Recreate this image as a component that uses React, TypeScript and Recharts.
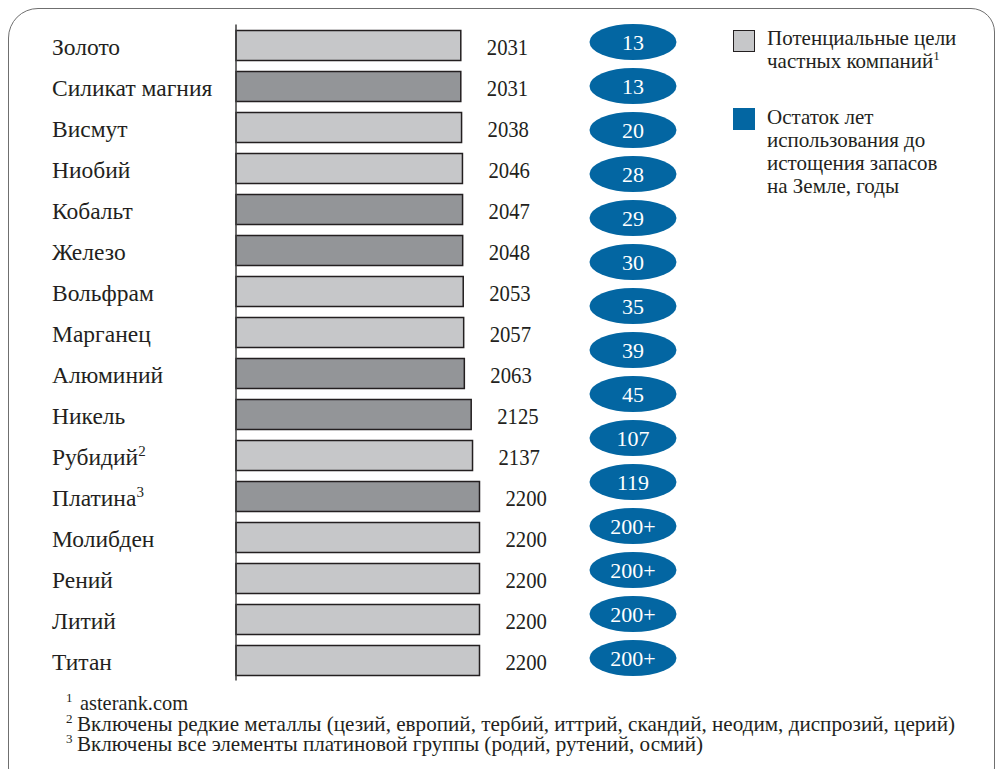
import React from "react";
import {
  BarChart,
  Bar,
  XAxis,
  YAxis,
  Cell,
  LabelList,
  Legend,
  ScatterChart,
  Scatter,
} from "recharts";

// metals, top to bottom
const metals = [
  "Золото",
  "Силикат магния",
  "Висмут",
  "Ниобий",
  "Кобальт",
  "Железо",
  "Вольфрам",
  "Марганец",
  "Алюминий",
  "Никель",
  "Рубидий",
  "Платина",
  "Молибден",
  "Рений",
  "Литий",
  "Титан",
];
const metalNotes = ["", "", "", "", "", "", "", "", "", "", "2", "3", "", "", "", ""];
const depletionYear = [
  2031, 2031, 2038, 2046, 2047, 2048, 2053, 2057, 2063, 2125, 2137, 2200, 2200, 2200, 2200, 2200,
];
const privateTarget = [
  true, false, true, true, false, false, true, true, false, false, true, false, true, true, true, true,
];

// blue ovals column (15 values, own spacing)
const yearsLeft = ["13", "13", "20", "28", "29", "30", "35", "39", "45", "107", "119", "200+", "200+", "200+", "200+"];

const legendTargets = ["Потенциальные цели", "частных компаний"];
const legendReserves = ["Остаток лет", "использования до", "истощения запасов", "на Земле, годы"];

const footnoteMarks = ["1", "2", "3"];
const footnoteTexts = [
  "asterank.com",
  "Включены редкие металлы (цезий, европий, тербий, иттрий, скандий, неодим, диспрозий, церий)",
  "Включены все элементы платиновой группы (родий, рутений, осмий)",
];

const SERIF = "Liberation Serif";
const INK = "#231f20";
const LIGHT = "#c6c7c9";
const DARK = "#939598";
const BLUE = "#0366a2";

const barData = metals.map((name, i) => ({
  name,
  note: metalNotes[i],
  year: depletionYear[i],
  target: privateTarget[i],
}));

const ovalData = yearsLeft.map((label, i) => ({ row: i, col: 0.5, label }));

function MetalTick(props: any) {
  const { y, payload } = props;
  const d = barData[payload.index];
  return (
    <text x={52} y={y + 10} fontFamily={SERIF} fontSize={23.5} fill={INK}>
      {d.name}
      {d.note && (
        <tspan dy={-9} fontSize={15}>
          {d.note}
        </tspan>
      )}
    </text>
  );
}

const renderYear = (p: any) => {
  const tx = p.x + p.width + 26;
  const ty = p.y + p.height / 2 + 9;
  return (
    <text
      transform={`translate(${tx} ${ty}) scale(0.9 1)`}
      x={0}
      y={0}
      fontFamily={SERIF}
      fontSize={23}
      fill={INK}
    >
      {p.value}
    </text>
  );
};

const renderOval = (p: any) => (
  <g>
    <ellipse cx={p.cx} cy={p.cy} rx={43.5} ry={18} fill={BLUE} />
    <text
      x={p.cx}
      y={p.cy + 7.5}
      textAnchor="middle"
      fontFamily={SERIF}
      fontSize={22}
      fill="#ffffff"
    >
      {p.payload.label}
    </text>
  </g>
);

const renderLegend = () => (
  <div style={{ fontFamily: SERIF, fontSize: 21, lineHeight: "23px", color: INK, textAlign: "left" }}>
    <div style={{ display: "flex" }}>
      <div
        style={{
          width: 22,
          height: 22,
          marginTop: 3,
          boxSizing: "border-box",
          background: LIGHT,
          border: `1.5px solid ${INK}`,
          flex: "none",
        }}
      />
      <div style={{ marginLeft: 12 }}>
        <div>{legendTargets[0]}</div>
        <div>
          {legendTargets[1]}
          <sup style={{ fontSize: 13, lineHeight: 0 }}>1</sup>
        </div>
      </div>
    </div>
    <div style={{ display: "flex", marginTop: 33 }}>
      <div style={{ width: 22, height: 22, marginTop: 1.5, background: BLUE, flex: "none" }} />
      <div style={{ marginLeft: 12 }}>
        {legendReserves.map((t) => (
          <div key={t}>{t}</div>
        ))}
      </div>
    </div>
  </div>
);

const footBaselines = [710, 731, 751];
const footStart = [80, 77, 77];
const footWidth = [108, 878, 626];

export default function App() {
  return (
    <div
      style={{
        position: "fixed",
        left: 0,
        top: 0,
        width: 996,
        height: 769,
        overflow: "hidden",
        background: "#ffffff",
        fontFamily: SERIF,
      }}
    >
      <div
        style={{
          position: "absolute",
          left: 8,
          top: 8,
          width: 987,
          height: 790,
          boxSizing: "border-box",
          border: "1.5px solid #6f6f6f",
          borderRadius: "30px 24px 30px 30px",
        }}
      />
      <div style={{ position: "absolute", left: 0, top: 0 }}>
        <BarChart
          width={996}
          height={769}
          data={barData}
          layout="vertical"
          margin={{ top: 24.5, right: 516.5, bottom: 88.5, left: 0 }}
          barCategoryGap={11}
        >
          <XAxis type="number" domain={[0, 2200]} hide />
          <YAxis
            type="category"
            dataKey="name"
            width={236}
            interval={0}
            tickLine={false}
            axisLine={{ stroke: "#3c3c3c", strokeWidth: 1.5 }}
            tick={<MetalTick />}
          />
          <Bar dataKey="year" barSize={30} stroke={INK} strokeWidth={1.5} isAnimationActive={false}>
            {barData.map((d, i) => (
              <Cell key={i} fill={d.target ? LIGHT : DARK} />
            ))}
            <LabelList dataKey="year" content={renderYear} />
          </Bar>
          <Legend
            layout="horizontal"
            verticalAlign="middle"
            align="center"
            content={renderLegend}
            wrapperStyle={{ position: "absolute", left: 733, top: 27, width: 250 }}
          />
        </BarChart>
      </div>
      <div style={{ position: "absolute", left: 0, top: 0 }}>
        <ScatterChart width={996} height={769} margin={{ top: 20, right: 318, bottom: 89, left: 588 }}>
          <XAxis type="number" dataKey="col" domain={[0, 1]} hide />
          <YAxis type="number" dataKey="row" domain={[-0.5, 14.5]} reversed hide />
          <Scatter data={ovalData} shape={renderOval} isAnimationActive={false} />
        </ScatterChart>
      </div>
      <svg
        width={996}
        height={769}
        style={{ position: "absolute", left: 0, top: 0, pointerEvents: "none" }}
      >
        {footnoteTexts.map((t, i) => (
          <g key={i}>
            <text x={66} y={footBaselines[i] - 8} fontFamily={SERIF} fontSize={13} fill={INK}>
              {footnoteMarks[i]}
            </text>
            <text
              x={footStart[i]}
              y={footBaselines[i]}
              fontFamily={SERIF}
              fontSize={21}
              fill={INK}
              textLength={footWidth[i]}
              lengthAdjust="spacingAndGlyphs"
            >
              {t}
            </text>
          </g>
        ))}
      </svg>
    </div>
  );
}
